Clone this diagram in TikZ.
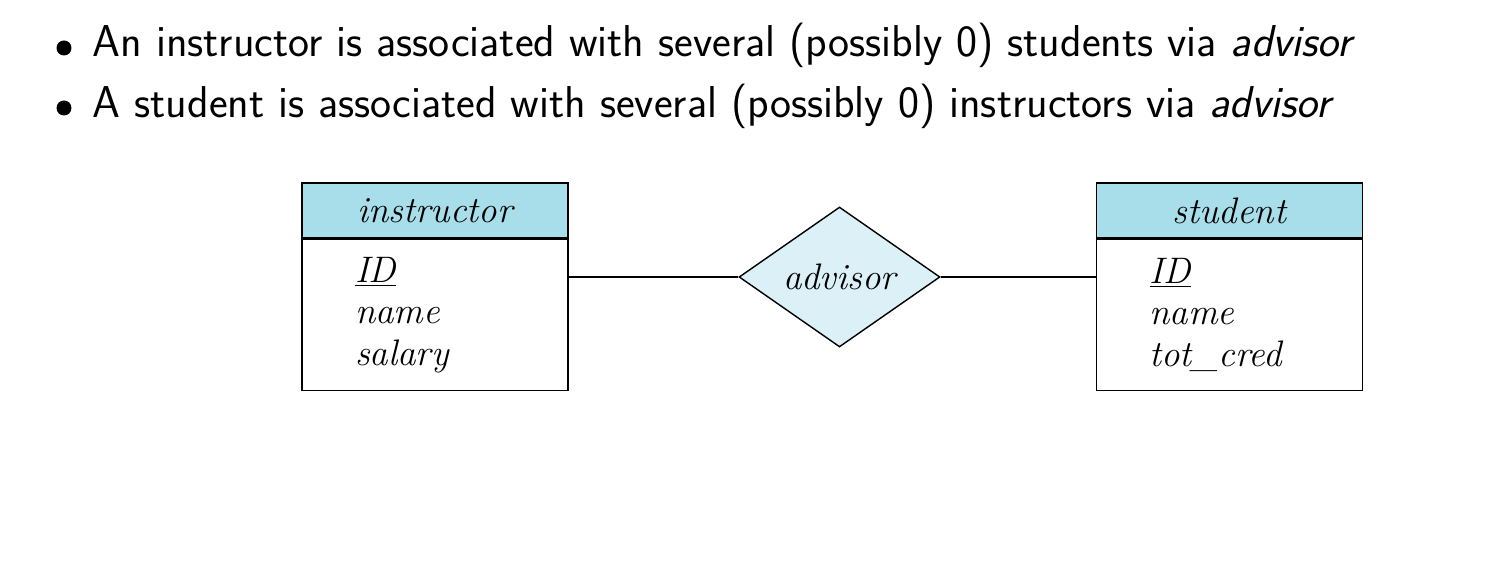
\documentclass[tikz,border=0pt]{standalone}
\usetikzlibrary{shapes.geometric,positioning}
\definecolor{headcol}{RGB}{168,222,234}
\definecolor{relcol}{RGB}{220,240,248}
\newcommand{\attrfont}{\fontsize{21}{23.5}\selectfont\itshape}
\newcommand{\itemfont}{\fontsize{25.4}{30}\selectfont\sffamily}

\begin{document}
\begin{tikzpicture}[x=0.02cm,y=-0.02cm,thick,
  enthead/.style={draw,fill=headcol,minimum width=5.32cm,minimum height=1.1cm,inner sep=0pt,font=\attrfont},
  entbody/.style={draw,fill=white,minimum height=3.02cm,text width=3.2cm,inner xsep=1.06cm,align=left,font=\attrfont},
  relship/.style={diamond,draw,fill=relcol,aspect=1.43,minimum width=4.02cm,minimum height=2.8cm,inner sep=0pt,font=\attrfont},
  bul/.style={circle,fill,inner sep=0pt,minimum size=0.3cm}]
  \useasboundingbox (0,0) rectangle (1507,570);

  \node[bul] (b_1) at (64,48) {};
  \node[bul] (b_2) at (64,108) {};
  \node[anchor=base west,inner sep=0pt,font=\itemfont] (t_1) at (92,57)
    {An instructor is associated with several (possibly 0) students via \textit{advisor}};
  \node[anchor=base west,inner sep=0pt,font=\itemfont] (t_2) at (92,118)
    {A student is associated with several (possibly 0) instructors via \textit{advisor}};

  \node[enthead] (ins_h) at (435,210.5) {instructor};
  \node[entbody] (ins_b) [below=0pt of ins_h] {\underline{ID}\\name\\salary};
  \node[relship] (adv)   at (839.5,277) {advisor};
  \node[enthead] (stu_h) at (1229.5,210.5) {student};
  \node[entbody] (stu_b) [below=0pt of stu_h] {\underline{ID}\\name\\tot\_cred};

  \path[draw] (adv.west -| ins_b.east) -- (adv.west)
              (adv.east) -- (adv.east -| stu_b.west);
\end{tikzpicture}
\end{document}
